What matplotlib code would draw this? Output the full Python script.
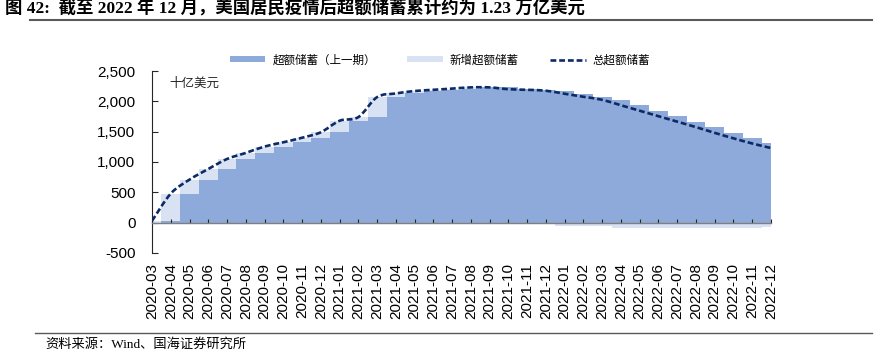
import numpy as np
import matplotlib
matplotlib.use('Agg')
import matplotlib.pyplot as plt
from matplotlib.path import Path
from matplotlib.patches import PathPatch, Patch
from matplotlib.lines import Line2D

plt.rcParams['font.family'] = ['Liberation Sans', 'Noto Sans CJK SC']
plt.rcParams['axes.unicode_minus'] = False

months = ['2020-03', '2020-04', '2020-05', '2020-06', '2020-07', '2020-08', '2020-09',
          '2020-10', '2020-11', '2020-12', '2021-01', '2021-02', '2021-03', '2021-04',
          '2021-05', '2021-06', '2021-07', '2021-08', '2021-09', '2021-10', '2021-11',
          '2021-12', '2022-01', '2022-02', '2022-03', '2022-04', '2022-05', '2022-06',
          '2022-07', '2022-08', '2022-09', '2022-10', '2022-11', '2022-12']
# 总超额储蓄 (十亿美元)
total = [30, 480, 710, 885, 1050, 1150, 1255,
         1325, 1400, 1490, 1680, 1740, 2070, 2130,
         2170, 2190, 2210, 2230, 2230, 2200, 2190,
         2175, 2125, 2075, 2025, 1935, 1845, 1755,
         1665, 1575, 1480, 1390, 1305, 1230]

DARK = '#8eaadb'
LIGHT = '#d9e2f3'
NAVY = '#0c2a66'
CJK = ['Noto Sans CJK SC']


def smooth_path(xs, ys):
    # 类似 Excel 平滑线: Catmull-Rom 转 Bezier
    pts = np.column_stack([xs, ys]).astype(float)
    verts = [pts[0]]
    codes = [Path.MOVETO]
    n = len(pts)
    for i in range(n - 1):
        p0 = pts[max(i - 1, 0)]
        p1 = pts[i]
        p2 = pts[i + 1]
        p3 = pts[min(i + 2, n - 1)]
        c1 = p1 + (p2 - p0) / 6
        c2 = p2 - (p3 - p1) / 6
        verts += [c1, c2, p2]
        codes += [Path.CURVE4] * 3
    return Path(verts, codes)


total = np.array(total, dtype=float)
prev = np.concatenate([[0], total[:-1]])
new = total - prev
x = np.arange(len(months))

fig = plt.figure(figsize=(8.85, 3.61), dpi=100)
ax = fig.add_axes([0.1718, 0.2992, 0.6994, 0.5041])

ax.bar(x, prev, width=1.0, color=DARK, linewidth=0, zorder=1)
ax.bar(x, new, width=1.0, bottom=np.where(new >= 0, prev, 0), color=LIGHT,
       linewidth=0, zorder=1)

line = PathPatch(smooth_path(x, total), fill=False, edgecolor=NAVY, lw=1.9,
                 linestyle=(0, (2.2, 1.1)), zorder=4, capstyle='butt')
ax.add_patch(line)

for s in ['top', 'right']:
    ax.spines[s].set_visible(False)
ax.spines['bottom'].set_position(('data', 0))
ax.spines['bottom'].set_color('#7f7f7f')
ax.spines['bottom'].set_linewidth(1.0)
ax.spines['bottom'].set_zorder(3)
ax.spines['left'].set_color('#262626')
ax.spines['left'].set_linewidth(0.8)

ax.set_xlim(0, len(months) - 1)
ax.set_ylim(-500, 2500)
ax.set_yticks([-500, 0, 500, 1000, 1500, 2000, 2500])
ax.set_yticklabels([f'{v:,}' for v in [-500, 0, 500, 1000, 1500, 2000, 2500]], fontsize=11)
ax.set_xticks(x)
ax.set_xticklabels(months, fontsize=11)
ax.tick_params(axis='y', direction='in', length=4, width=0.8, color='#262626', pad=12)
ax.tick_params(axis='x', direction='in', length=3, width=0.8, color='#262626', pad=29,
               labelrotation=90)

ax.text(0.028, 0.93, '十亿美元', transform=ax.transAxes, fontsize=9, family=CJK,
        color='#262626', va='center')

handles = [Patch(facecolor=DARK, label='超额储蓄（上一期）'),
           Patch(facecolor=LIGHT, label='新增超额储蓄'),
           Line2D([], [], color=NAVY, lw=1.9, linestyle=(0, (2.2, 1.1)), label='总超额储蓄')]
fig.legend(handles=handles, loc='center', bbox_to_anchor=(0.497, 0.834), ncol=3,
           frameon=False, prop={'family': CJK, 'size': 8.3}, handlelength=3.1,
           handleheight=0.45, handletextpad=0.6, columnspacing=2.7)

fig.text(0.006, 0.98, '图 42:  截至 2022 年 12 月，美国居民疫情后超额储蓄累计约为 1.23 万亿美元',
         fontsize=12.5, fontweight='bold', family=['Liberation Serif', 'Noto Sans CJK SC'],
         va='center', ha='left', color='black')
fig.add_artist(Line2D([0.034, 0.985], [1 - 19.5 / 361] * 2, color='#595959', lw=1.5))
fig.add_artist(Line2D([0.04, 0.985], [1 - 333 / 361] * 2, color='#595959', lw=1.0))
fig.text(0.051, 1 - 344 / 361, '资料来源：Wind、国海证券研究所', fontsize=9.5,
         family=['Liberation Serif', 'Noto Sans CJK SC'], va='center', ha='left')

fig.savefig('out.png', dpi=100)
